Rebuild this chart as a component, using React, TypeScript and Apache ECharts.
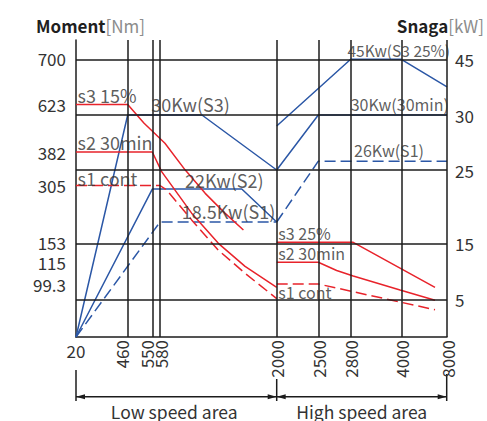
import React, { useEffect, useRef } from "react";
import * as echarts from "echarts";

// ---------- data ----------
const speedTicks = [20, 460, 550, 580, 2000, 2500, 2800, 4000, 8000];
const torqueTicks = [0, 99.3, 115, 153, 305, 382, 623, 700];
const powerTicks = [0, 5, 15, 25, 30, 45];

// torque curves [rpm, Nm]
const s3LowTorque = [[20, 623], [460, 623], [520, 528], [640, 426], [885, 341], [1130, 284], [1370, 231], [1595, 186]];
const s2LowTorque = [[20, 382], [550, 382], [600, 337], [965, 231], [1290, 151], [1615, 112], [2000, 93]];
const s1LowTorque = [[20, 305], [580, 305], [660, 293], [965, 213], [1290, 138], [1615, 107], [2000, 72]];
const s3HighTorque = [[2000, 153], [2860, 153], [6950, 93]];
const s2HighTorque = [[2000, 115], [2500, 115], [2670, 109], [2860, 105], [3970, 88], [6950, 69]];
const s1HighTorque = [[2000, 99.3], [2500, 99.3], [6950, 51]];

// power curves [rpm, kW]
const s3LowPower = [[20, 0], [460, 30], [1090, 30], [2000, 25]];
const s2LowPower = [[20, 0], [550, 22.4], [1575, 22.4], [2000, 17.9]];
const s1LowPower = [[20, 0], [580, 17.9], [2000, 17.9]];
const s3HighPower = [[2000, 29], [2800, 45], [4000, 45], [8000, 37.6]];
const s2HighPower = [[2000, 25], [2500, 30], [8000, 30]];
const s1HighPower = [[2000, 17.9], [2500, 25.8], [8000, 25.8]];

// annotations: text, rpm, value, axis, dx, dy, font size
const annotations: [string, number, number, "T" | "P", number, number, number][] = [
  ["s3 15%", 20, 623, "T", 1.5, -9.5, 18],
  ["30Kw(S3)", 550, 30, "P", -1, -11, 18],
  ["s2 30min", 20, 382, "T", 1.5, -10.3, 18],
  ["s1 cont", 20, 305, "T", 1.5, -7.5, 18],
  ["22Kw(S2)", 885, 22.4, "P", 0, -9.3, 18],
  ["18.5Kw(S1)", 845, 17.9, "P", 0, -10.6, 18],
  ["45Kw(S3 25%)", 2770, 45, "P", 0, -9.3, 15.5],
  ["30Kw(30min)", 2800, 30, "P", 0, -11, 16],
  ["26Kw(S1)", 2880, 25.8, "P", 0, -11, 16],
  ["s3 25%", 2020, 153, "T", 0, -9, 16],
  ["s2 30min", 2020, 115, "T", 0, -8.9, 16],
  ["s1 cont", 2020, 99.3, "T", 0, 7.7, 16],
];

// ---------- schematic layout of the axes (px along the plot) ----------
const X_SLOTS = [0, 51.7, 76.3, 84, 200.7, 242.3, 274.7, 325.3, 371];
const X_LABEL_SLOTS = [0, 45, 70.8, 84, 200.7, 242.3, 274.7, 325.3, 371];
const T_SLOTS = [0, 53, 74.8, 94.7, 151.5, 185, 232.5, 278.5];
const P_SLOTS = [0, 37.7, 93.7, 167, 222, 277.7];

function interp(v: number, ticks: number[], slots: number[]) {
  let i = 0;
  while (i < ticks.length - 2 && v > ticks[i + 1]) i++;
  return slots[i] + ((v - ticks[i]) / (ticks[i + 1] - ticks[i])) * (slots[i + 1] - slots[i]);
}
const xPos = (r: number) => interp(r, speedTicks, X_SLOTS);
const tPos = (v: number) => interp(v, torqueTicks, T_SLOTS);
const pPos = (v: number) => interp(v, powerTicks, P_SLOTS);
const nearest = (v: number, slots: number[]) => {
  let b = 0;
  slots.forEach((s, i) => { if (Math.abs(s - v) < Math.abs(slots[b] - v)) b = i; });
  return b;
};

const FONT = '"Noto Sans CJK SC", "Noto Sans", sans-serif';
const RED = "#e8232b";
const BLUE = "#2b57a6";
const GRID = "#1c1c1c";
const TXT = "#333";
const FS = 17;

function curve(name: string, d: number[][], axis: "T" | "P", color: string, dashed: boolean) {
  return {
    name,
    type: "line",
    z: 3,
    symbol: "none",
    silent: true,
    data: d.map(([r, v]) => [xPos(r), axis === "T" ? tPos(v) : pPos(v)]),
    lineStyle: { color, width: 1.5, type: dashed ? [11, 5] : "solid" },
  };
}

export default function App() {
  const ref = useRef<HTMLDivElement>(null);
  useEffect(() => {
    document.body.style.margin = "0";
    const chart = echarts.init(ref.current!, undefined, { renderer: "svg" });
    const lineS = { color: GRID, width: 1.5 };
    const rich = {
      a: { fontFamily: FONT, fontSize: FS, fontWeight: "bold", color: "#1f1f1f" },
      b: { fontFamily: FONT, fontSize: FS, fontWeight: "normal", color: "#8c8c8c" },
    };
    const option: any = {
      animation: false,
      title: [
        { text: "{a|Moment}{b|[Nm]}", left: 36, top: 17, padding: 0, textStyle: { rich } },
        { text: "{a|Snaga}{b|[kW]}", right: 3, top: 17, padding: 0, textStyle: { rich } },
      ],
      grid: { left: 76, right: 40, top: 40, bottom: 84 },
      xAxis: [
        {
          type: "value", min: 0, max: 371, position: "bottom",
          axisLine: { show: true, onZero: false, lineStyle: lineS },
          axisTick: { show: false }, splitLine: { show: false },
          axisLabel: {
            customValues: X_LABEL_SLOTS.slice(1), rotate: 90, margin: 3,
            fontFamily: FONT, fontSize: FS, color: TXT, lineHeight: FS,
            formatter: (v: number) => String(speedTicks[nearest(v, X_LABEL_SLOTS)]),
          },
        },
        {
          type: "value", min: 0, max: 371, position: "bottom",
          axisLine: { show: false }, axisTick: { show: false }, splitLine: { show: false },
          axisLabel: {
            customValues: [0], margin: 5, fontFamily: FONT, fontSize: FS, color: TXT, lineHeight: FS,
            formatter: () => String(speedTicks[0]),
          },
        },
      ],
      yAxis: [
        {
          type: "value", min: 0, max: 297, position: "left",
          axisLine: { show: true, onZero: false, lineStyle: lineS },
          axisTick: { show: false }, splitLine: { show: false },
          axisLabel: {
            customValues: T_SLOTS.slice(1), margin: 10, fontFamily: FONT, fontSize: FS, color: TXT, lineHeight: 16,
            formatter: (v: number) => String(torqueTicks[nearest(v, T_SLOTS)]),
          },
        },
        {
          type: "value", min: 0, max: 297, position: "right",
          axisLine: { show: false }, axisTick: { show: false }, splitLine: { show: false },
          axisLabel: {
            customValues: P_SLOTS.slice(1), margin: 8, fontFamily: FONT, fontSize: FS, color: TXT, lineHeight: FS,
            formatter: (v: number) => String(powerTicks[nearest(v, P_SLOTS)]),
          },
        },
      ],
      series: [
        {
          name: "grid",
          type: "line",
          z: 1,
          symbol: "none",
          data: [[0, 0]],
          lineStyle: { opacity: 0 },
          markLine: {
            silent: true,
            symbol: ["none", "none"],
            label: { show: false },
            lineStyle: { color: GRID, width: 1.5, type: "solid" },
            data: [
              ...X_SLOTS.slice(1).map((x) => ({ xAxis: x })),
              ...P_SLOTS.slice(1).map((y) => ({ yAxis: y })),
            ],
          },
        },
        curve("30Kw(S3)", s3LowPower, "P", BLUE, false),
        curve("22Kw(S2)", s2LowPower, "P", BLUE, false),
        curve("18.5Kw(S1)", s1LowPower, "P", BLUE, true),
        curve("45Kw(S3 25%)", s3HighPower, "P", BLUE, false),
        curve("30Kw(30min)", s2HighPower, "P", BLUE, false),
        curve("26Kw(S1)", s1HighPower, "P", BLUE, true),
        curve("s3 15%", s3LowTorque, "T", RED, false),
        curve("s2 30min", s2LowTorque, "T", RED, false),
        curve("s1 cont", s1LowTorque, "T", RED, true),
        curve("s3 25%", s3HighTorque, "T", RED, false),
        curve("s2 30min high", s2HighTorque, "T", RED, false),
        curve("s1 cont high", s1HighTorque, "T", RED, true),
        {
          name: "labels",
          type: "scatter",
          z: 5,
          symbolSize: 0,
          silent: true,
          data: annotations.map(([t, r, v, ax, dx, dy, fs]) => ({
            name: t,
            value: [xPos(r), ax === "T" ? tPos(v) : pPos(v)],
            label: { offset: [dx, dy], fontSize: fs, lineHeight: fs },
          })),
          label: {
            show: true, position: [0, 0], align: "left", verticalAlign: "middle",
            formatter: "{b}", fontFamily: FONT, fontSize: FS, color: TXT,
          },
        },
      ],
      graphic: [
        { type: "line", shape: { x1: 76, y1: 370, x2: 76, y2: 401 }, style: { stroke: GRID, lineWidth: 1.5 } },
        { type: "line", shape: { x1: 76, y1: 396.7, x2: 447, y2: 396.7 }, style: { stroke: GRID, lineWidth: 1.5 } },
        { type: "line", shape: { x1: 276.7, y1: 379, x2: 276.7, y2: 401 }, style: { stroke: GRID, lineWidth: 1.5 } },
        { type: "line", shape: { x1: 446.7, y1: 374, x2: 446.7, y2: 401 }, style: { stroke: GRID, lineWidth: 1.5 } },
        { type: "polygon", shape: { points: [[76, 396.7], [85, 394.2], [85, 399.2]] }, style: { fill: GRID } },
        { type: "polygon", shape: { points: [[276.7, 396.7], [267.7, 394.2], [267.7, 399.2]] }, style: { fill: GRID } },
        { type: "polygon", shape: { points: [[276.7, 396.7], [285.7, 394.2], [285.7, 399.2]] }, style: { fill: GRID } },
        { type: "polygon", shape: { points: [[446.7, 396.7], [437.7, 394.2], [437.7, 399.2]] }, style: { fill: GRID } },
        { type: "text", x: 174.2, y: 411, style: { text: "Low speed area", fill: TXT, font: `17.5px ${FONT}`, align: "center", verticalAlign: "middle" } },
        { type: "text", x: 361.7, y: 411, style: { text: "High speed area", fill: TXT, font: `17.5px ${FONT}`, align: "center", verticalAlign: "middle" } },
      ],
    };
    chart.setOption(option);
    return () => chart.dispose();
  }, []);
  return <div ref={ref} style={{ width: 487, height: 421, position: "absolute", left: 0, top: 0 }} />;
}
